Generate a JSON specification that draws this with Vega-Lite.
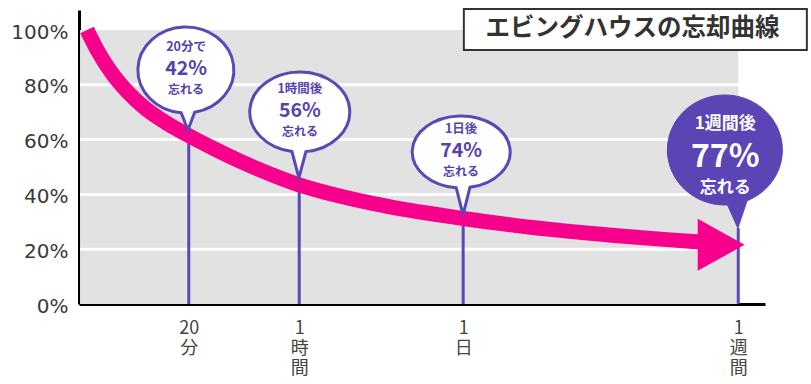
{
  "$schema": "https://vega.github.io/schema/vega-lite/v6.json",
  "width": 686,
  "height": 294,
  "autosize": {"type": "none"},
  "padding": {"left": 79, "top": 10, "right": 46, "bottom": 80},
  "background": "white",
  "config": {"view": {"stroke": null}},
  "datasets": {
    "curve": [
      {"pos": 1.17, "retention": 100},
      {"pos": 2.8, "retention": 92.0},
      {"pos": 4.66, "retention": 84.7},
      {"pos": 7.0, "retention": 77.6},
      {"pos": 9.62, "retention": 71.5},
      {"pos": 12.6, "retention": 66.3},
      {"pos": 15.9, "retention": 61.6},
      {"pos": 20.0, "retention": 56.3},
      {"pos": 24.2, "retention": 51.3},
      {"pos": 28.2, "retention": 47.1},
      {"pos": 32.2, "retention": 43.4},
      {"pos": 38.0, "retention": 39.4},
      {"pos": 45.0, "retention": 35.6},
      {"pos": 56.0, "retention": 31.2},
      {"pos": 63.5, "retention": 28.7},
      {"pos": 71.1, "retention": 26.6},
      {"pos": 78.5, "retention": 24.9},
      {"pos": 85.7, "retention": 23.5},
      {"pos": 90.3, "retention": 22.7}
    ],
    "points": [
      {"time": "20分", "pos": 16.0, "base": 0, "tip": 63.5},
      {"time": "1時間", "pos": 32.1, "base": 0, "tip": 46},
      {"time": "1日", "pos": 56.0, "base": 0, "tip": 32.5},
      {"time": "1週間", "pos": 96.1, "base": 0, "tip": 27.7}
    ],
    "bubbles": [
      {"time": "20分", "pos": 15.6, "y": 85.4, "line1": "20分で", "pct": "42%", "line3": "忘れる"},
      {"time": "1時間", "pos": 32.2, "y": 70.1, "line1": "1時間後", "pct": "56%", "line3": "忘れる"},
      {"time": "1日", "pos": 55.7, "y": 55.5, "line1": "1日後", "pct": "74%", "line3": "忘れる"},
      {"time": "1週間", "pos": 94.2, "y": 56.2, "line1": "1週間後", "pct": "77%", "line3": "忘れる"}
    ],
    "grid": [
      {"v": 20, "x0": 0.15, "x1": 96.1},
      {"v": 40, "x0": 0.15, "x1": 96.1},
      {"v": 60, "x0": 0.15, "x1": 96.1},
      {"v": 80, "x0": 0.15, "x1": 96.1}
    ],
    "panel": [{"x0": 0.15, "x1": 96.1, "y0": 0, "y1": 100}],
    "arrow": [{"pos": 93.6, "retention": 21.6}],
    "titlebox": [{"x0": 56.1, "x1": 106.1, "y0": 92.7, "y1": 107.7, "xc": 80.7, "yc": 100.4, "title": "エビングハウスの忘却曲線"}]
  },
  "layer": [
    {
      "data": {"name": "panel"},
      "mark": {"type": "rect", "color": "#e2e2e2"},
      "encoding": {
        "x": {"field": "x0", "type": "quantitative", "scale": {"domain": [0, 100], "nice": false, "zero": false},
          "axis": {
            "values": [16.0, 32.1, 56.0, 96.1],
            "labelExpr": "datum.value < 20 ? ['20','分'] : datum.value < 40 ? ['1','時','間'] : datum.value < 70 ? ['1','日'] : ['1','週','間']",
            "title": null, "grid": false, "ticks": false,
            "domainColor": "#000000", "domainWidth": 3,
            "labelFont": "Noto Sans CJK JP", "labelFontSize": 18, "labelLineHeight": 20,
            "labelColor": "#444444", "labelBaseline": "top", "labelPadding": 15, "labelAlign": "center"
          }
        },
        "x2": {"field": "x1"},
        "y": {"field": "y0", "type": "quantitative", "scale": {"domain": [0, 107.3], "nice": false},
          "axis": {
            "values": [0, 20, 40, 60, 80, 100],
            "labelExpr": "datum.value + '%'",
            "title": null, "grid": false, "ticks": false,
            "domainColor": "#000000", "domainWidth": 3,
            "labelFont": "DejaVu Sans", "labelFontSize": 20, "labelColor": "#3a3a3a",
            "labelPadding": 11, "labelOffset": 2
          }
        },
        "y2": {"field": "y1"}
      }
    },
    {
      "data": {"name": "grid"},
      "mark": {"type": "rule", "color": "white", "strokeWidth": 3},
      "encoding": {
        "y": {"field": "v", "type": "quantitative"},
        "x": {"field": "x0", "type": "quantitative"},
        "x2": {"field": "x1"}
      }
    },
    {
      "data": {"name": "points"},
      "mark": {"type": "rule", "color": "#5b48b5", "strokeWidth": 3},
      "encoding": {
        "x": {"field": "pos", "type": "quantitative"},
        "y": {"field": "base", "type": "quantitative"},
        "y2": {"field": "tip"}
      }
    },
    {
      "data": {"name": "curve"},
      "mark": {"type": "line", "color": "#f6008c", "strokeWidth": 15, "interpolate": "monotone", "strokeCap": "butt"},
      "encoding": {
        "x": {"field": "pos", "type": "quantitative"},
        "y": {"field": "retention", "type": "quantitative"}
      }
    },
    {
      "data": {"name": "arrow"},
      "mark": {"type": "point", "shape": "M-0.9,-1 L0.9,0 L-0.9,1 Z", "size": 2704, "filled": true, "fill": "#f6008c", "opacity": 1, "strokeWidth": 0},
      "encoding": {
        "x": {"field": "pos", "type": "quantitative"},
        "y": {"field": "retention", "type": "quantitative"}
      }
    },
    {
      "data": {"name": "bubbles"},
      "transform": [{"filter": "datum.time == '20分'"}],
      "mark": {"type": "point", "shape": "M0.18,0.881 A1,0.896 0 1 0 -0.1,0.892 L0.04,1.25 Z", "size": 9216, "filled": true, "fill": "white", "stroke": "#5b48b5", "strokeWidth": 3, "opacity": 1},
      "encoding": {"x": {"field": "pos", "type": "quantitative"}, "y": {"field": "y", "type": "quantitative"}}
    },
    {
      "data": {"name": "bubbles"},
      "transform": [{"filter": "datum.time == '1時間'"}],
      "mark": {"type": "point", "shape": "M0.12,0.794 A1,0.8 0 1 0 -0.16,0.79 L-0.02,1.32 Z", "size": 10000, "filled": true, "fill": "white", "stroke": "#5b48b5", "strokeWidth": 3, "opacity": 1},
      "encoding": {"x": {"field": "pos", "type": "quantitative"}, "y": {"field": "y", "type": "quantitative"}}
    },
    {
      "data": {"name": "bubbles"},
      "transform": [{"filter": "datum.time == '1日'"}],
      "mark": {"type": "point", "shape": "M0.18,0.723 A1,0.735 0 1 0 -0.1,0.731 L0.04,1.286 Z", "size": 9604, "filled": true, "fill": "white", "stroke": "#5b48b5", "strokeWidth": 3, "opacity": 1},
      "encoding": {"x": {"field": "pos", "type": "quantitative"}, "y": {"field": "y", "type": "quantitative"}}
    },
    {
      "data": {"name": "bubbles"},
      "transform": [{"filter": "datum.time == '1週間'"}],
      "mark": {"type": "point", "shape": "M0.38,0.883 A1,0.957 0 1 0 0.04,0.956 L0.22,1.357 Z", "size": 13225, "filled": true, "fill": "#5b45b5", "stroke": "#5b45b5", "strokeWidth": 1, "opacity": 1},
      "encoding": {"x": {"field": "pos", "type": "quantitative"}, "y": {"field": "y", "type": "quantitative"}}
    },
    {
      "data": {"name": "bubbles"},
      "transform": [{"filter": "datum.time != '1週間'"}],
      "mark": {"type": "text", "font": "Noto Sans CJK JP", "fontWeight": "bold", "fontSize": 12.5, "color": "#5542b0", "dy": -23, "baseline": "middle"},
      "encoding": {"x": {"field": "pos", "type": "quantitative"}, "y": {"field": "y", "type": "quantitative"}, "text": {"field": "line1", "type": "nominal"}}
    },
    {
      "data": {"name": "bubbles"},
      "transform": [{"filter": "datum.time != '1週間'"}],
      "mark": {"type": "text", "font": "Noto Sans CJK JP", "fontWeight": "bold", "fontSize": 19.5, "color": "#5542b0", "dy": -1, "baseline": "middle"},
      "encoding": {"x": {"field": "pos", "type": "quantitative"}, "y": {"field": "y", "type": "quantitative"}, "text": {"field": "pct", "type": "nominal"}}
    },
    {
      "data": {"name": "bubbles"},
      "transform": [{"filter": "datum.time != '1週間'"}],
      "mark": {"type": "text", "font": "Noto Sans CJK JP", "fontWeight": "bold", "fontSize": 12, "color": "#5542b0", "dy": 20, "baseline": "middle"},
      "encoding": {"x": {"field": "pos", "type": "quantitative"}, "y": {"field": "y", "type": "quantitative"}, "text": {"field": "line3", "type": "nominal"}}
    },
    {
      "data": {"name": "bubbles"},
      "transform": [{"filter": "datum.time == '1週間'"}],
      "mark": {"type": "text", "font": "Noto Sans CJK JP", "fontWeight": "bold", "fontSize": 17, "color": "white", "dy": -26, "baseline": "middle"},
      "encoding": {"x": {"field": "pos", "type": "quantitative"}, "y": {"field": "y", "type": "quantitative"}, "text": {"field": "line1", "type": "nominal"}}
    },
    {
      "data": {"name": "bubbles"},
      "transform": [{"filter": "datum.time == '1週間'"}],
      "mark": {"type": "text", "font": "Noto Sans CJK JP", "fontWeight": "bold", "fontSize": 32, "color": "white", "dy": 7, "baseline": "middle"},
      "encoding": {"x": {"field": "pos", "type": "quantitative"}, "y": {"field": "y", "type": "quantitative"}, "text": {"field": "pct", "type": "nominal"}}
    },
    {
      "data": {"name": "bubbles"},
      "transform": [{"filter": "datum.time == '1週間'"}],
      "mark": {"type": "text", "font": "Noto Sans CJK JP", "fontWeight": "bold", "fontSize": 17, "color": "white", "dy": 38, "baseline": "middle"},
      "encoding": {"x": {"field": "pos", "type": "quantitative"}, "y": {"field": "y", "type": "quantitative"}, "text": {"field": "line3", "type": "nominal"}}
    },
    {
      "data": {"name": "titlebox"},
      "mark": {"type": "rect", "fill": "white", "stroke": "#333333", "strokeWidth": 2, "clip": false},
      "encoding": {
        "x": {"field": "x0", "type": "quantitative"}, "x2": {"field": "x1"},
        "y": {"field": "y0", "type": "quantitative"}, "y2": {"field": "y1"}
      }
    },
    {
      "data": {"name": "titlebox"},
      "mark": {"type": "text", "font": "Noto Sans CJK JP", "fontWeight": "bold", "fontSize": 24.5, "color": "#333333", "baseline": "middle", "align": "center"},
      "encoding": {
        "x": {"field": "xc", "type": "quantitative"}, "y": {"field": "yc", "type": "quantitative"},
        "text": {"field": "title", "type": "nominal"}
      }
    }
  ]
}
